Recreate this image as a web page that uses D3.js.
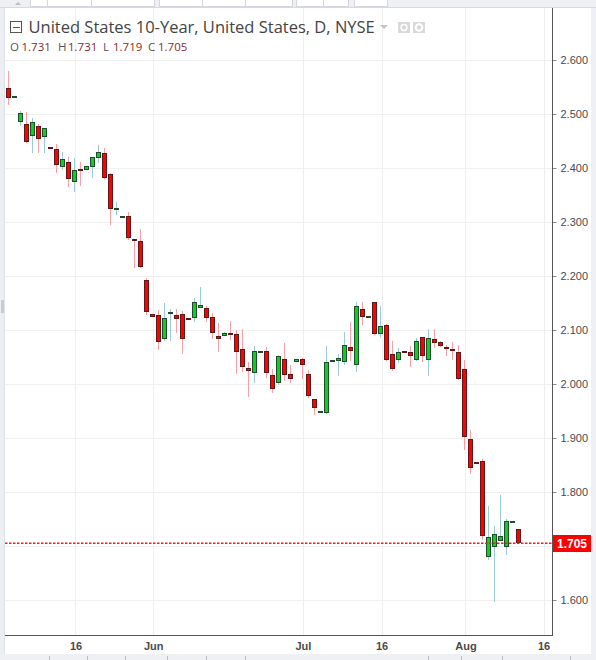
<!DOCTYPE html>
<html>
<head>
<meta charset="utf-8">
<script src="https://cdn.jsdelivr.net/npm/d3@7"></script>
<style>
  body { margin: 0; background: #fff; }
  svg { display: block; }
</style>
</head>
<body>
<div id="chart"></div>
<script>

// Daily bars (oldest first)
const opens = [
  2.548, 2.532, 2.485, 2.481, 2.459, 2.477, 2.457, 2.439, 2.435, 2.402,
  2.411, 2.375, 2.398, 2.396, 2.401, 2.418, 2.427, 2.388, 2.322, 2.310,
  2.311, 2.268, 2.264, 2.192, 2.130, 2.127, 2.084, 2.132, 2.127, 2.129,
  2.123, 2.123, 2.141, 2.140, 2.125, 2.088, 2.088, 2.094, 2.092, 2.064,
  2.029, 2.020, 2.059, 2.061, 2.016, 2.001, 2.046, 2.018, 2.040, 2.046,
  2.018, 1.973, 1.948, 1.946, 2.044, 2.042, 2.040, 2.068, 2.036, 2.138,
  2.125, 2.151, 2.092, 2.109, 2.055, 2.044, 2.062, 2.059, 2.044, 2.087,
  2.044, 2.083, 2.077, 2.068, 2.064, 2.059, 2.027, 1.898, 1.855, 1.857,
  1.679, 1.698, 1.710, 1.699, 1.746, 1.731
];
const highs = [
  2.580, 2.533, 2.506, 2.503, 2.492, 2.481, 2.475, 2.439, 2.444, 2.429,
  2.420, 2.418, 2.411, 2.403, 2.420, 2.443, 2.437, 2.390, 2.337, 2.311,
  2.318, 2.268, 2.287, 2.197, 2.130, 2.137, 2.150, 2.138, 2.139, 2.135,
  2.123, 2.159, 2.180, 2.145, 2.132, 2.113, 2.096, 2.117, 2.100, 2.102,
  2.040, 2.070, 2.061, 2.068, 2.027, 2.054, 2.076, 2.035, 2.047, 2.049,
  2.026, 1.973, 1.950, 2.070, 2.045, 2.056, 2.096, 2.115, 2.151, 2.151,
  2.126, 2.152, 2.144, 2.112, 2.079, 2.066, 2.062, 2.070, 2.086, 2.087,
  2.101, 2.101, 2.079, 2.072, 2.077, 2.073, 2.044, 1.915, 1.855, 1.861,
  1.774, 1.737, 1.794, 1.750, 1.747, 1.731
];
const lows = [
  2.517, 2.532, 2.477, 2.447, 2.428, 2.427, 2.428, 2.437, 2.391, 2.396,
  2.364, 2.356, 2.367, 2.396, 2.382, 2.410, 2.380, 2.295, 2.313, 2.310,
  2.266, 2.214, 2.214, 2.128, 2.125, 2.063, 2.080, 2.080, 2.094, 2.056,
  2.121, 2.115, 2.141, 2.114, 2.083, 2.060, 2.088, 2.082, 2.019, 2.023,
  1.976, 2.002, 2.059, 2.012, 1.984, 1.999, 2.006, 2.001, 2.040, 2.009,
  1.975, 1.942, 1.948, 1.944, 2.044, 2.014, 2.036, 2.042, 2.022, 2.109,
  2.125, 2.090, 2.086, 2.042, 2.025, 2.038, 2.061, 2.031, 2.042, 2.040,
  2.014, 2.066, 2.068, 2.051, 2.044, 2.007, 1.878, 1.834, 1.851, 1.711,
  1.675, 1.597, 1.710, 1.683, 1.746, 1.705
];
const closes = [
  2.530, 2.533, 2.501, 2.449, 2.486, 2.454, 2.475, 2.437, 2.405, 2.416,
  2.379, 2.396, 2.394, 2.403, 2.420, 2.429, 2.381, 2.324, 2.325, 2.311,
  2.270, 2.264, 2.216, 2.134, 2.125, 2.077, 2.122, 2.133, 2.121, 2.084,
  2.121, 2.151, 2.146, 2.123, 2.094, 2.084, 2.094, 2.091, 2.059, 2.031,
  2.025, 2.061, 2.061, 2.020, 1.990, 2.051, 2.016, 2.009, 2.046, 2.035,
  1.977, 1.955, 1.950, 2.040, 2.045, 2.049, 2.073, 2.062, 2.144, 2.125,
  2.126, 2.092, 2.107, 2.044, 2.027, 2.059, 2.061, 2.051, 2.079, 2.051,
  2.085, 2.075, 2.070, 2.064, 2.062, 2.009, 1.902, 1.844, 1.851, 1.719,
  1.717, 1.722, 1.719, 1.746, 1.747, 1.705
];

// Time axis: positions are in bar units (fractional = between bars)
const xTickIdx = [11.2, 24.15, 49.1, 62.2, 76.2, 89.2];
const xTickLabels = ['16', 'Jun', 'Jul', '16', 'Aug', '16'];

const yTicks = [1.6, 1.7, 1.8, 1.9, 2.0, 2.1, 2.2, 2.3, 2.4, 2.5, 2.6];
const lastPrice = 1.705;

const title = 'United States 10-Year, United States, D, NYSE';
const ohlcLetters = ['O', 'H', 'L', 'C'];
const ohlcValues = ['1.731', '1.731', '1.719', '1.705'];


const C = {
  width: 596,
  height: 660,
  plot: {left: 4, right: 552, top: 8, bottom: 635},
  up_fill: '#12cc24',
  up_border: '#1e4d2c',
  up_wick: '#9ccdd4',
  down_fill: '#ff0000',
  down_border: '#5e1818',
  down_wick: '#f6a2ab',
  grid: '#efefef',
  axis: '#555',
  text: '#4a4a4a',
  font: '"Open Sans", sans-serif',
  axis_font: '"Liberation Sans", Arial, sans-serif',
};

const svg = d3.select('#chart').append('svg')
  .attr('width', C.width)
  .attr('height', C.height);

svg.append('rect')
  .attr('width', C.width).attr('height', C.height)
  .attr('fill', '#fff');

const X = d3.scaleLinear()
  .domain([0, opens.length - 1])
  .range([8.3, 518.3]);

const Y = d3.scaleLinear()
  .domain([1.6, 2.6])
  .range([600, 60]);

const px = v => Math.round(v) + 0.5;

// ---- grid ----
const grid = svg.append('g').attr('shape-rendering', 'crispEdges');

grid.selectAll('line.h')
  .data(yTicks)
  .enter().append('line')
  .attr('class', 'h')
  .attr('x1', C.plot.left + 1).attr('x2', C.plot.right)
  .attr('y1', d => px(Y(d))).attr('y2', d => px(Y(d)))
  .attr('stroke', C.grid);

grid.selectAll('line.v')
  .data(xTickIdx)
  .enter().append('line')
  .attr('class', 'v')
  .attr('x1', d => px(X(d))).attr('x2', d => px(X(d)))
  .attr('y1', C.plot.top).attr('y2', C.plot.bottom)
  .attr('stroke', C.grid);

// ---- candles ----
const bars = opens.map((o, i) => ({
  i, o, h: highs[i], l: lows[i], c: closes[i], up: closes[i] >= o
}));

const candles = svg.append('g').attr('shape-rendering', 'crispEdges');

candles.selectAll('line.wick')
  .data(bars)
  .enter().append('line')
  .attr('class', 'wick')
  .attr('x1', d => px(X(d.i))).attr('x2', d => px(X(d.i)))
  .attr('y1', d => Math.round(Y(d.h))).attr('y2', d => Math.round(Y(d.l)))
  .attr('stroke', d => d.up ? C.up_wick : C.down_wick);

candles.selectAll('rect.body')
  .data(bars)
  .enter().append('rect')
  .attr('class', 'body')
  .attr('x', d => Math.round(X(d.i)) - 2 + 0.5)
  .attr('width', 4)
  .attr('y', d => Math.round(Y(Math.max(d.o, d.c))) + 0.5)
  .attr('height', d => Math.max(1, Math.round(Y(Math.min(d.o, d.c))) - Math.round(Y(Math.max(d.o, d.c))) - 1))
  .attr('fill', d => d.up ? C.up_fill : C.down_fill)
  .attr('stroke', d => d.up ? C.up_border : C.down_border);

// ---- last price line (red dots) ----
const lastY = Math.round(Y(lastPrice));
svg.append('g')
  .selectAll('rect')
  .data(d3.range(C.plot.left + 1, C.plot.right, 4))
  .enter().append('rect')
  .attr('x', d => d).attr('y', lastY - 0.5)
  .attr('width', 2.5).attr('height', 1.5)
  .attr('fill', '#ff1a1a');

// ---- price axis ----
const yAxis = svg.append('g')
  .attr('transform', `translate(${C.plot.right + 0.5},0)`)
  .call(d3.axisRight(Y)
    .tickValues(yTicks.filter(v => Math.abs(v - lastPrice) > 0.02))
    .tickFormat(d3.format('.3f'))
    .tickSize(4)
    .tickPadding(4)
    .tickSizeOuter(0));

yAxis.select('.domain').remove();
yAxis.selectAll('line').attr('stroke', '#888');
yAxis.selectAll('text')
  .attr('fill', C.text)
  .style('font-family', C.axis_font)
  .style('font-size', '11px');

// ---- time axis ----
const xAxis = svg.append('g')
  .attr('transform', `translate(0,${C.plot.bottom})`)
  .call(d3.axisBottom(X)
    .tickValues(xTickIdx)
    .tickFormat((d, i) => xTickLabels[i])
    .tickSize(0)
    .tickPadding(7));

xAxis.select('.domain').remove();
xAxis.selectAll('text')
  .attr('fill', C.text)
  .style('font-family', C.axis_font)
  .style('font-size', '11px')
  .style('font-weight', 'bold');

// axis frame lines
svg.append('path')
  .attr('d', `M${C.plot.left},${C.plot.bottom + 0.5}H${C.plot.right + 0.5}V${C.plot.top}`)
  .attr('fill', 'none')
  .attr('stroke', C.axis)
  .attr('shape-rendering', 'crispEdges');

// last price tag
svg.append('rect')
  .attr('x', C.plot.right + 1).attr('y', lastY - 8)
  .attr('width', 38).attr('height', 17)
  .attr('fill', '#ff0000');
svg.append('text')
  .attr('x', C.plot.right + 20).attr('y', lastY + 4.5)
  .attr('text-anchor', 'middle')
  .attr('fill', '#fff')
  .style('font-family', C.axis_font)
  .style('font-size', '12px')
  .style('font-weight', 'bold')
  .text(d3.format('.3f')(lastPrice));

// ---- chrome: side bands, toolbars ----
const chrome = svg.append('g').attr('shape-rendering', 'crispEdges');

chrome.append('rect').attr('x', 0).attr('y', 0).attr('width', 4).attr('height', C.height).attr('fill', '#eceef3');
chrome.append('line').attr('x1', 4.5).attr('x2', 4.5).attr('y1', 8).attr('y2', 654).attr('stroke', '#dfe2e8');
chrome.append('rect').attr('x', 1).attr('y', 300).attr('width', 3).attr('height', 13).attr('fill', '#c9ccd2');
chrome.append('rect').attr('x', 591).attr('y', 0).attr('width', 5).attr('height', C.height).attr('fill', '#eef0f5');

// top toolbar strip
chrome.append('rect').attr('x', 0).attr('y', 0).attr('width', C.width).attr('height', 8).attr('fill', '#eef0f4');
chrome.append('line').attr('x1', 0).attr('x2', C.width).attr('y1', 7.5).attr('y2', 7.5).attr('stroke', '#d6d9df');
const topButtons = [[30, 47], [47, 91], [91, 154], [159, 202], [202, 245], [245, 292], [296, 323], [323, 348], [354, 387]];
chrome.selectAll('rect.tb')
  .data(topButtons)
  .enter().append('rect')
  .attr('class', 'tb')
  .attr('x', d => d[0] + 0.5).attr('y', -1)
  .attr('width', d => d[1] - d[0]).attr('height', 7)
  .attr('fill', '#fff').attr('stroke', '#d4d7dd');
svg.append('path').attr('d', 'M15,5 L18,2 L21,5 Z').attr('fill', '#b8bcc4');

// bottom toolbar strip
chrome.append('rect').attr('x', 0).attr('y', 654).attr('width', C.width).attr('height', 6).attr('fill', '#eef0f4');
const bottomSeps = [49, 87, 125, 167, 206, 245, 428, 461, 502, 570];
chrome.selectAll('line.bs')
  .data(bottomSeps)
  .enter().append('line')
  .attr('class', 'bs')
  .attr('x1', d => d + 0.5).attr('x2', d => d + 0.5)
  .attr('y1', 656).attr('y2', 660)
  .attr('stroke', '#b9bdc5');

// ---- legend header ----
const head = svg.append('g');

head.append('rect')
  .attr('x', 10.5).attr('y', 21.5).attr('width', 11).attr('height', 11)
  .attr('fill', 'none').attr('stroke', '#555').attr('shape-rendering', 'crispEdges');
head.append('line')
  .attr('x1', 13).attr('x2', 20).attr('y1', 27.5).attr('y2', 27.5)
  .attr('stroke', '#555').attr('shape-rendering', 'crispEdges');

head.append('text')
  .attr('x', 28.5).attr('y', 33)
  .attr('fill', '#444')
  .style('font-family', C.font)
  .style('font-size', '16.5px')
  .text(title);

// small caret + eye/gear boxes
head.append('path').attr('d', 'M380,25 L388,25 L384,29 Z').attr('fill', '#c4c4c4');
[398, 413].forEach((bx, k) => {
  head.append('rect').attr('x', bx).attr('y', 22).attr('width', 12).attr('height', 11).attr('fill', '#d9d9d9');
  head.append('circle').attr('cx', bx + 6).attr('cy', 27.5).attr('r', k === 0 ? 3 : 3.3)
    .attr('fill', 'none').attr('stroke', '#fff').attr('stroke-width', k === 0 ? 1.3 : 2);
});

const ohlcX = [10, 21.5, 58, 68, 103, 113, 148, 158];
ohlcLetters.forEach((l, k) => {
  head.append('text')
    .attr('x', ohlcX[k * 2]).attr('y', 50.5)
    .attr('fill', '#555')
    .style('font-family', C.font).style('font-size', '11.5px')
    .text(l);
  head.append('text')
    .attr('x', ohlcX[k * 2 + 1]).attr('y', 50.5)
    .attr('fill', '#8a2b2b')
    .style('font-family', C.font).style('font-size', '11.5px')
    .text(ohlcValues[k]);
});

</script>
</body>
</html>
